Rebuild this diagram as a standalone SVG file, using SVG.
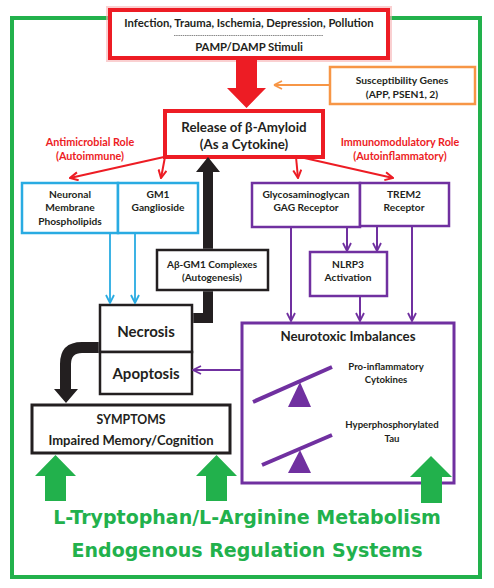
<svg xmlns="http://www.w3.org/2000/svg" width="494" height="588" viewBox="0 0 494 588">
<defs>
<style>
text{font-family:Lato,"Liberation Sans",sans-serif;font-weight:700;fill:#231f20;text-anchor:middle}
.red{fill:#ed1c24}
.grn{font-family:"DejaVu Sans",Verdana,sans-serif;fill:#22b14c;font-size:19px}
.box{fill:#fff}
.rl{stroke:#ed1c24;stroke-width:2;fill:none}
.bl{stroke:#29abe2;stroke-width:1.8;fill:none}
.pl{stroke:#7030a0;stroke-width:2;fill:none}
</style>
<marker id="mrs" viewBox="0 0 10 10" refX="9" refY="5" markerWidth="10" markerHeight="10" orient="auto" markerUnits="userSpaceOnUse"><path d="M1,1 L9,5 L1,9" fill="none" stroke="#ed1c24" stroke-width="2"/></marker>
<marker id="mo" viewBox="0 0 10 10" refX="9" refY="5" markerWidth="10" markerHeight="10" orient="auto" markerUnits="userSpaceOnUse"><path d="M9,5 L1,1 M9,5 L1,9" fill="none" stroke="#f79646" stroke-width="1.8"/></marker>
<marker id="mb" viewBox="0 0 10 10" refX="9" refY="5" markerWidth="10" markerHeight="10" orient="auto" markerUnits="userSpaceOnUse"><path d="M1,1 L9,5 L1,9" fill="none" stroke="#29abe2" stroke-width="1.8"/></marker>
<marker id="mp" viewBox="0 0 10 10" refX="9" refY="5" markerWidth="10" markerHeight="10" orient="auto" markerUnits="userSpaceOnUse"><path d="M1,1 L9,5 L1,9" fill="none" stroke="#7030a0" stroke-width="1.8"/></marker>
</defs>
<rect width="494" height="588" fill="#fff"/>
<rect id="frame" x="12" y="18" width="468" height="559" fill="none" stroke="#22b14c" stroke-width="4"/>

<g id="stimuli">
<rect x="110" y="10" width="278" height="48" fill="none" stroke="#f7b0b3" stroke-width="8" opacity="0.6"/>
<rect x="110" y="10" width="278" height="48" class="box" stroke="#ed1c24" stroke-width="4"/>
<text x="249" y="27" font-size="11.3">Infection, Trauma, Ischemia, Depression, Pollution</text>
<line x1="174" y1="35.5" x2="323" y2="35.5" stroke="#555" stroke-width="0.7" stroke-dasharray="1.5,0.7"/>
<text x="249" y="51" font-size="11.3">PAMP/DAMP Stimuli</text>
</g>

<g id="genes">
<rect x="330" y="67" width="145" height="37" class="box" stroke="#f79646" stroke-width="2.5"/>
<text x="402" y="84" font-size="10.3">Susceptibility Genes</text>
<text x="402" y="98" font-size="10.3">(APP, PSEN1, 2)</text>
</g>

<g id="amyloid">
<rect x="165" y="111" width="158" height="46" class="box" stroke="#ed1c24" stroke-width="4"/>
<text x="244" y="132" font-size="13.3">Release of β-Amyloid</text>
<text x="244" y="149" font-size="13.3">(As a Cytokine)</text>
</g>

<g id="role-labels">
<text class="red" x="90" y="146" font-size="10.8">Antimicrobial Role</text>
<text class="red" x="90" y="160" font-size="10.8">(Autoimmune)</text>
<text class="red" x="400" y="146" font-size="10.8">Immunomodulatory Role</text>
<text class="red" x="400" y="160" font-size="10.8">(Autoinflammatory)</text>
</g>

<g id="neuronal">
<rect x="22" y="183" width="96" height="50" class="box" stroke="#29abe2" stroke-width="2.5"/>
<text x="70" y="198" font-size="10.2">Neuronal</text>
<text x="70" y="211" font-size="10.2">Membrane</text>
<text x="70" y="225" font-size="10.2">Phospholipids</text>
</g>
<g id="gm1">
<rect x="118" y="183" width="80" height="50" class="box" stroke="#29abe2" stroke-width="2.5"/>
<text x="158" y="198" font-size="10.2">GM1</text>
<text x="158" y="211" font-size="10.2">Ganglioside</text>
</g>

<g id="complexes">
<rect x="157" y="250" width="111" height="40" class="box" stroke="#231f20" stroke-width="2.5"/>
<text x="212" y="268" font-size="10">Aβ-GM1 Complexes</text>
<text x="212" y="281" font-size="10">(Autogenesis)</text>
</g>

<g id="necrosis">
<rect x="100" y="305" width="92" height="47" class="box" stroke="#231f20" stroke-width="2.5"/>
<text x="146" y="337" font-size="15">Necrosis</text>
</g>
<g id="apoptosis">
<rect x="100" y="352" width="92" height="42" class="box" stroke="#231f20" stroke-width="2.5"/>
<text x="146" y="379" font-size="15">Apoptosis</text>
</g>

<g id="symptoms">
<rect x="32" y="405" width="198" height="48" class="box" stroke="#231f20" stroke-width="3"/>
<text x="131" y="424" font-size="12.3">SYMPTOMS</text>
<text x="131" y="445" font-size="13">Impaired Memory/Cognition</text>
</g>

<g id="gag">
<rect x="252" y="183" width="108" height="44" class="box" stroke="#7030a0" stroke-width="2.5"/>
<text x="306" y="198" font-size="10.2">Glycosaminoglycan</text>
<text x="306" y="211" font-size="10.2">GAG Receptor</text>
</g>
<g id="trem2">
<rect x="360" y="183" width="89" height="43" class="box" stroke="#7030a0" stroke-width="2.5"/>
<text x="404" y="198" font-size="10.2">TREM2</text>
<text x="404" y="211" font-size="10.2">Receptor</text>
</g>
<g id="nlrp3">
<rect x="310" y="252" width="77" height="44" class="box" stroke="#7030a0" stroke-width="2.5"/>
<text x="348" y="268" font-size="10.2">NLRP3</text>
<text x="348" y="281" font-size="10.2">Activation</text>
</g>

<g id="neurotoxic">
<rect x="242" y="323" width="212" height="160" class="box" stroke="#7030a0" stroke-width="3"/>
<text x="348" y="341" font-size="13.3">Neurotoxic Imbalances</text>
<line x1="253" y1="402" x2="332" y2="367" stroke="#7030a0" stroke-width="4"/>
<polygon points="300,382 288,407 311,407" fill="#7030a0"/>
<text x="386" y="370" font-size="9.6">Pro-inflammatory</text>
<text x="386" y="383" font-size="9.6">Cytokines</text>
<line x1="262" y1="465" x2="332" y2="435" stroke="#7030a0" stroke-width="4"/>
<polygon points="300,450 288,473 311,473" fill="#7030a0"/>
<text x="392" y="428" font-size="9.6">Hyperphosphorylated</text>
<text x="392" y="442" font-size="9.6">Tau</text>
</g>

<g id="regulation">
<text class="grn" x="247" y="524">L-Tryptophan/L-Arginine Metabolism</text>
<text class="grn" x="247" y="557">Endogenous Regulation Systems</text>
</g>

<g id="connectors">
<polygon points="236,60 257,60 257,88 266,88 246.5,108 227,88 236,88" fill="#ed1c24"/>
<line x1="330" y1="85" x2="274" y2="85" stroke="#f79646" stroke-width="2" marker-end="url(#mo)"/>
<line class="rl" x1="164" y1="157" x2="70" y2="178" marker-end="url(#mrs)"/>
<line class="rl" x1="165" y1="157" x2="161" y2="178" marker-end="url(#mrs)"/>
<line class="rl" x1="296" y1="157" x2="298" y2="178" marker-end="url(#mrs)"/>
<line class="rl" x1="300" y1="157" x2="393" y2="178" marker-end="url(#mrs)"/>
<line class="bl" x1="110" y1="234" x2="110" y2="303" marker-end="url(#mb)"/>
<line class="bl" x1="135" y1="234" x2="135" y2="303" marker-end="url(#mb)"/>
<polygon points="203,248.8 203,172 196,172 208,157 220,172 213,172 213,248.8" fill="#231f20"/>
<polygon points="193.3,313 203,313 203,291.2 213,291.2 213,323 193.3,323" fill="#231f20"/>
<path d="M98.7,342 L82,342 Q60,342 60,364 L60,389 L54,389 L66,403 L78,389 L71,389 L71,364 Q71,353 82,353 L98.7,353 Z" fill="#231f20"/>
<line class="pl" x1="347" y1="228" x2="347" y2="251" marker-end="url(#mp)"/>
<line class="pl" x1="377" y1="227" x2="377" y2="251" marker-end="url(#mp)"/>
<line class="pl" x1="291" y1="228" x2="291" y2="321" marker-end="url(#mp)"/>
<line class="pl" x1="360" y1="297" x2="360" y2="321" marker-end="url(#mp)"/>
<line class="pl" x1="412" y1="227" x2="412" y2="321" marker-end="url(#mp)"/>
<line class="pl" x1="240.5" y1="370" x2="193" y2="370" marker-end="url(#mp)"/>
<polygon points="45,501 66,501 66,476 76,476 55.5,455 35,476 45,476" fill="#22b14c"/>
<polygon points="206,501 227,501 227,476 237,476 216.5,455 196,476 206,476" fill="#22b14c"/>
<polygon points="421,503 442,503 442,477 452,477 431,456 410,477 421,477" fill="#22b14c"/>
</g>
</svg>
